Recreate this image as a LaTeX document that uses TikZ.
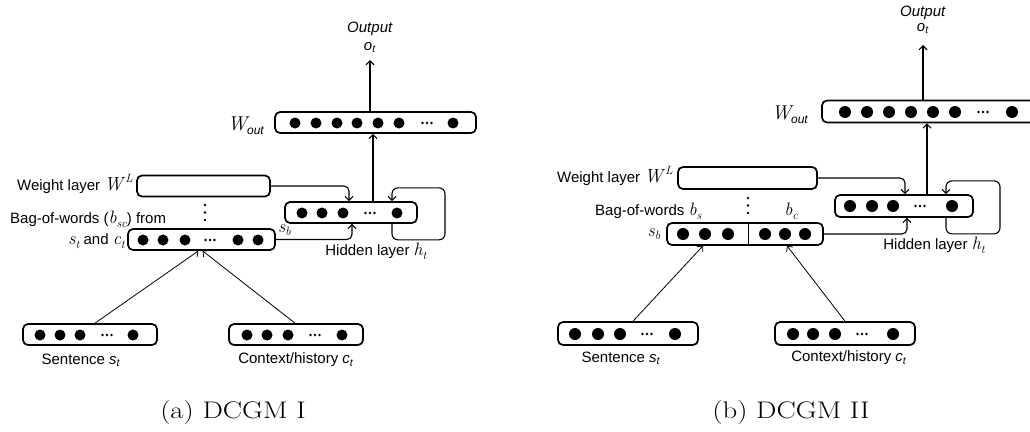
\documentclass[tikz,border=0pt]{standalone}
\usepackage{fontspec}
\usepackage{graphicx}
\newfontfamily\diag{Liberation Sans}
\usetikzlibrary{arrows.meta,calc}

% a row of filled units at height #1, x positions #2, radius #3
\newcommand\cells[3]{\foreach \cx in {#2} \fill (\cx,#1) circle (#3);}
% small horizontal ellipsis centred at (#1,#2)
\newcommand\gapdots[2]{\foreach \dx in {-4.5,0,4.5} \fill ([xshift=\dx pt]#1,#2) circle (1.3);}
% small vertical ellipsis at x=#1 with the three heights #2
\newcommand\vgap[2]{\foreach \vy in {#2} \fill (#1,\vy) circle (1.3);}
% italic sans letter with italic subscript
\newcommand\isub[2]{\textit{#1}\textsubscript{\textit{#2}}}
% italic serif symbol, and one with an italic serif subscript
\newcommand\sv[1]{{\rmfamily\itshape\fontsize{18}{18}\selectfont #1}}
\newcommand\svs[2]{\sv{#1}\raisebox{-0.25em}{\rmfamily\itshape\fontsize{12}{12}\selectfont #2}}
% weight symbol with superscript L
\newcommand\wsym{{\rmfamily\itshape\fontsize{19}{20}\selectfont W}\,\raisebox{0.5em}{\rmfamily\itshape\fontsize{12}{12}\selectfont L}}
% output weight symbol
\newcommand\wout{{\rmfamily\itshape\fontsize{20}{20}\selectfont W}\raisebox{-0.25em}{\itshape\fontsize{12}{12}\selectfont out}}

\begin{document}
\begin{tikzpicture}[x=1pt,y=-1pt,
  layer/.style={draw, line width=1.7pt, rounded corners=5pt, inner sep=0pt, minimum height=21pt},
  lbl/.style={font=\diag\fontsize{15}{18}\selectfont, inner sep=0pt},
  subcaption/.style={font=\fontsize{24}{28}\selectfont, inner sep=0pt},
  conn/.style={line width=1.1pt, -{Straight Barb[length=4pt,width=8pt]}},
  feed/.style={line width=0.8pt, -{Straight Barb[length=4pt,width=8pt]}}]
\useasboundingbox (0,0) rectangle (1030,431);
\clip (0,0) rectangle (1030,431);

% ---------------- (a) DCGM I ----------------
\node[layer, minimum width=201pt] (woutA) at (375.5,122.5) {};
\cells{123}{295,316,337,357,378,399,453}{5.5}
\gapdots{427}{123}
\node[layer, minimum width=132pt] (hidA) at (351,212.5) {};
\cells{213}{302,322,343,397}{5.5}
\gapdots{370}{213}
\node[layer, minimum width=133pt] (wlA) at (203.5,186) {};
\node[layer, minimum width=147pt] (bowA) at (201.5,239.5) {};
\cells{240}{143,163,185,238,258}{5.5}
\gapdots{210}{240}
\node[layer, minimum width=134pt] (senA) at (90,334.5) {};
\cells{335}{40,60,80,133}{5.5}
\gapdots{107}{335}
\node[layer, minimum width=134pt] (ctxA) at (296,334.5) {};
\cells{335}{247,267,288,342}{5.5}
\gapdots{315}{335}
\vgap{205}{205,212.5,220}

\coordinate (tipA) at (370,60);
\coordinate (riseA) at (373,0);
\draw[conn] (woutA.north -| tipA) -- (tipA);
\draw[conn] (hidA.north -| riseA) -- (woutA.south -| riseA);
\draw[conn, rounded corners=5pt] (wlA.east) -| ([xshift=-2pt]hidA.north);
\draw[conn, rounded corners=6pt] ([xshift=41pt]hidA.south) -- ++(0,16) -| ++(53,-52) -| ([xshift=41pt]hidA.north);
\draw[conn, rounded corners=5pt] (bowA.east) -| ([xshift=1pt]hidA.south);
\draw[feed] ([xshift=5pt]senA.north) -- ([xshift=-3pt]bowA.south);
\draw[feed] ([xshift=-1pt]ctxA.north) -- ([xshift=1pt]bowA.south);

\node[lbl, align=center] (outA) at (370,37) {\textit{Output}\\\isub{o}{t}};
\node[lbl, anchor=east] (woutlblA) at (264,126) {\wout};
\node[lbl, anchor=east] (wllblA) at (133,184) {Weight layer \wsym};
\node[lbl, anchor=west] (bowlblA) at (10,219) {Bag-of-words (\svs{b}{sc}) from};
\node[lbl, anchor=east] (bowlblA2) at (125,241) {\svs{s}{t} and \svs{c}{t}};
\node[lbl, anchor=west] (sbA) at (278,230) {\svs{s}{b}};
\node[lbl] (hidlblA) at (376,251) {Hidden layer \svs{h}{t}};
\node[lbl] (senlblA) at (81,360) {Sentence \isub{s}{t}};
\node[lbl] (ctxlblA) at (296,360) {Context/history \isub{c}{t}};
\node[subcaption] (capA) at (233,413) {\scalebox{1.2}[1]{(a) DCGM I}};

% ---------------- (b) DCGM II ----------------
\node[layer, minimum width=223pt, minimum height=22pt] (woutB) at (933.5,111.5) {};
\cells{112}{845,867,889,911,933,955,1012}{6}
\gapdots{983}{112}
\node[layer, minimum width=138pt, minimum height=22pt] (hidB) at (904,206) {};
\cells{206}{850,872,893,952}{6}
\gapdots{920}{206}
\node[layer, minimum width=139pt, minimum height=22pt] (wlB) at (747.5,178) {};
\node[layer, minimum width=156pt, minimum height=22pt] (bowB) at (745,234) {};
\coordinate (divB) at (748,0);
\draw[line width=0.8pt] (bowB.north -| divB) -- (bowB.south -| divB);
\cells{234}{683,705,728,765,785,805}{6}
\node[layer, minimum width=140pt, minimum height=23pt] (senB) at (628,333.5) {};
\cells{334}{575,598,620,675}{6}
\gapdots{647}{334}
\node[layer, minimum width=140pt, minimum height=23pt] (ctxB) at (845,333.5) {};
\cells{334}{793,813,835,893}{6}
\gapdots{862}{334}
\vgap{748}{198,205.5,213}

\coordinate (tipB) at (923,45);
\coordinate (riseB) at (927,0);
\draw[conn] (woutB.north -| tipB) -- (tipB);
\draw[conn] (hidB.north -| riseB) -- (woutB.south -| riseB);
\draw[conn, rounded corners=5pt] (wlB.east) -| ([xshift=1pt]hidB.north);
\draw[conn, rounded corners=6pt] ([xshift=42pt]hidB.south) -- ++(0,16) -| ++(54,-53) -| ([xshift=42pt]hidB.north);
\draw[conn, rounded corners=5pt] (bowB.east) -| ([xshift=3pt]hidB.south);
\draw[feed] ([xshift=5pt]senB.north) -- ([xshift=-42pt]bowB.south);
\draw[feed] (ctxB.north) -- ([xshift=42pt]bowB.south);

\node[lbl, align=center] (outB) at (923,19.5) {\textit{Output}\\[-3pt]\isub{o}{t}};
\node[lbl, anchor=east] (woutlblB) at (808,115) {\wout};
\node[lbl, anchor=east] (wllblB) at (673,176) {Weight layer \wsym};
\node[lbl, anchor=west] (bowlblB) at (595,211) {Bag-of-words \svs{b}{s}};
\node[lbl] (bclblB) at (791,211) {\svs{b}{c}};
\node[lbl] (sbB) at (654,234) {\svs{s}{b}};
\node[lbl] (hidlblB) at (934,245) {Hidden layer \svs{h}{t}};
\node[lbl] (senlblB) at (621,358) {Sentence \isub{s}{t}};
\node[lbl] (ctxlblB) at (849,358) {Context/history \isub{c}{t}};
\node[subcaption] (capB) at (791,413) {\scalebox{1.2}[1]{(b) DCGM II}};
\end{tikzpicture}
\end{document}
